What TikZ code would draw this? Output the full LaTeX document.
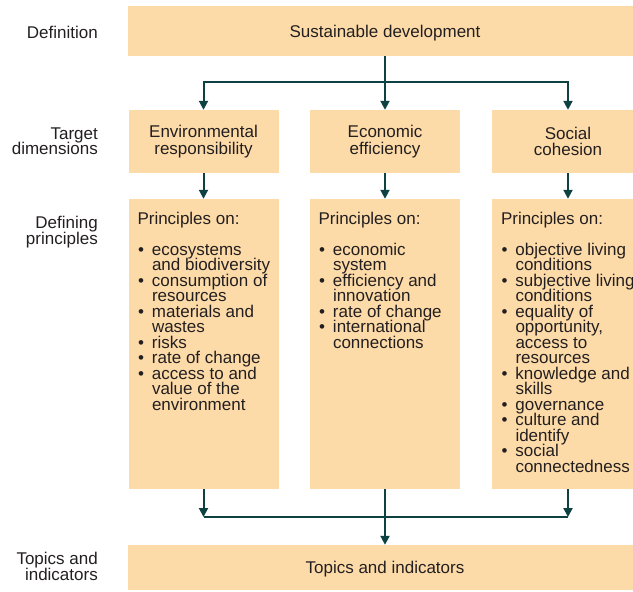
\documentclass[tikz,border=0pt]{standalone}
\usepackage{fontspec}
\setmainfont{Liberation Sans}
\usetikzlibrary{arrows.meta}
\definecolor{boxfill}{RGB}{253,219,168}
\definecolor{arrcol}{RGB}{14,66,66}
\definecolor{txt}{RGB}{35,31,32}
\newcommand\bul{\makebox[14.5pt][l]{\hspace{0.5pt}•}}
\newcommand\ind{\hspace*{14.5pt}}
\newcommand\basefont{\fontsize{17}{15.5}\selectfont\lineskiplimit=-30pt\relax}
\newcommand\targetfont{\fontsize{17}{16.5}\selectfont\lineskiplimit=-30pt\relax}
\begin{document}
\begin{tikzpicture}[x=1pt,y=1pt,
 every node/.style={text=txt, font=\basefont},
 sbox/.style={fill=boxfill, draw=none, inner sep=0},
 tbox/.style={sbox, align=center, font=\targetfont, minimum height=63pt},
 arr/.style={draw=arrcol, line width=2pt, -{Triangle[length=9pt,width=9pt]}},
 con/.style={draw=arrcol, line width=2pt},
 lbl/.style={anchor=east, align=right, inner sep=0},
 ptxt/.style={anchor=north west, align=left, inner sep=0}]
\useasboundingbox (0,0) rectangle (633,-592);
\clip (0,0) rectangle (633,-592);
% boxes
\node[sbox, minimum width=514pt, minimum height=50pt, text depth=0pt] (top) at (385,-31) {Sustainable development};
\node[tbox, minimum width=150pt] (env) at (203.5,-141.5) {Environmental\\responsibility};
\node[tbox, minimum width=150pt] (eco) at (385,-141.5) {Economic\\efficiency};
\node[tbox, minimum width=152pt] (soc) at (568,-141.5) {Social\\cohesion};
\node[sbox, minimum width=150pt, minimum height=290pt] (penv) at (203.5,-344) {};
\node[sbox, minimum width=150pt, minimum height=290pt] (peco) at (385,-344) {};
\node[sbox, minimum width=152pt, minimum height=290pt] (psoc) at (568,-344) {};
\node[sbox, minimum width=514pt, minimum height=45pt, text depth=0pt] (topics) at (385,-567.5) {Topics and indicators};
% principle texts
\node[ptxt] (tenv) at ([shift={(9pt,-12.8pt)}]penv.north west) {Principles on:\\[15.5pt]
\bul ecosystems\\
\ind and biodiversity\\
\bul consumption of\\
\ind resources\\
\bul materials and\\
\ind wastes\\
\bul risks\\
\bul rate of change\\
\bul access to and\\
\ind value of the\\
\ind environment};
\node[ptxt] (teco) at ([shift={(8.5pt,-12.8pt)}]peco.north west) {Principles on:\\[15.5pt]
\bul economic\\
\ind system\\
\bul efficiency and\\
\ind innovation\\
\bul rate of change\\
\bul international\\
\ind connections};
\node[ptxt] (tsoc) at ([shift={(9pt,-12.8pt)}]psoc.north west) {Principles on:\\[15.5pt]
\bul objective living\\
\ind conditions\\
\bul subjective living\\
\ind conditions\\
\bul equality of\\
\ind opportunity,\\
\ind access to\\
\ind resources\\
\bul knowledge and\\
\ind skills\\
\bul governance\\
\bul culture and\\
\ind identify\\
\bul social\\
\ind connectedness};
% left labels
\node[lbl] (l1) at (98,-32) {Definition};
\node[lbl] (l2) at (98,-141) {Target\\dimensions};
\node[lbl] (l3) at (98,-232) {Defining\\principles};
\node[lbl] (l4) at (98,-566.5) {Topics and\\indicators};
% connectors
\coordinate (j1) at (385,-82);
\coordinate (j2) at (385,-517);
\draw[arr] (top.south) -- (eco.north);
\draw[arr] (j1) -| (env.north);
\draw[arr] (j1) -| (soc.north);
\draw[arr] (env.south) -- (penv.north);
\draw[arr] (eco.south) -- (peco.north);
\draw[arr] (soc.south) -- (psoc.north);
\draw[arr] (penv.south) -- (penv.south |- j2);
\draw[arr] (psoc.south) -- (psoc.south |- j2);
\draw[con] (penv.south |- j2) -- (psoc.south |- j2);
\draw[arr] (peco.south) -- (topics.north);
\end{tikzpicture}
\end{document}
